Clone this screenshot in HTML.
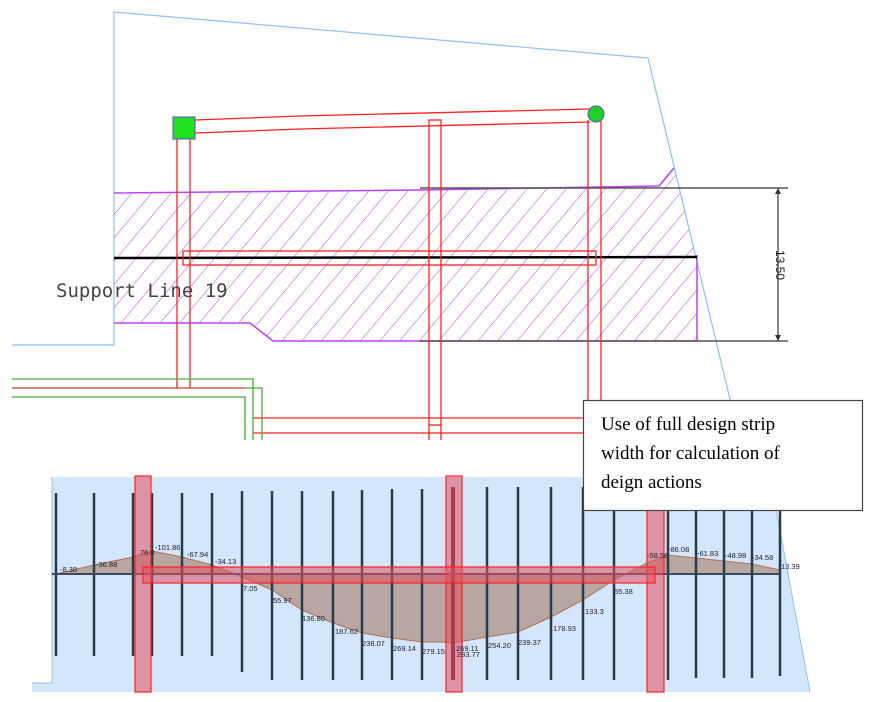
<!DOCTYPE html>
<html><head><meta charset="utf-8"><style>
html,body{margin:0;padding:0;background:#fff;width:886px;height:702px;overflow:hidden}
svg{display:block}
</style></head><body>
<svg width="886" height="702" viewBox="0 0 886 702" xmlns="http://www.w3.org/2000/svg">
<defs>
<pattern id="h" patternUnits="userSpaceOnUse" width="15" height="15" patternTransform="rotate(40)">
<line x1="0" y1="0" x2="0" y2="15" stroke="#c040f0" stroke-width="1"/>
</pattern>
</defs>
<polyline points="12,345 114,345 114,12 648,58 747,470" fill="none" stroke="#8cc0f8" stroke-width="1.2"/>
<polygon points="114,193 420,190 659,186 674,168 695,255 697,255 697,341 273,341 250,323 114,323" fill="url(#h)"/>
<polyline points="114,193 420,190 659,186 674,168" fill="none" stroke="#c040f0" stroke-width="1.5"/>
<polyline points="697,255 697,341 273,341 250,323 114,323" fill="none" stroke="#c040f0" stroke-width="1.5"/>
<line x1="420" y1="188" x2="788" y2="188" stroke="#555" stroke-width="1.5"/>
<line x1="420" y1="341" x2="788" y2="341" stroke="#555" stroke-width="1.5"/>
<line x1="778" y1="188" x2="778" y2="341" stroke="#333" stroke-width="1.2"/>
<polygon points="778,188 775,194 781,194" fill="#333"/>
<polygon points="778,341 775,335 781,335" fill="#333"/>
<text transform="translate(776,250) rotate(90)" font-family="Liberation Sans, sans-serif" font-size="12" fill="#222">13.50</text>
<line x1="114" y1="258" x2="697" y2="257" stroke="#000" stroke-width="2.5"/>
<g fill="none" stroke="#ff2020" stroke-width="1.3">
<polyline points="195,120 300,116 590,109"/>
<polyline points="195,133 300,129 590,122"/>
<rect x="183" y="251" width="413" height="14"/>
<line x1="177" y1="139" x2="177" y2="388"/>
<line x1="190" y1="139" x2="190" y2="388"/>
<rect x="429" y="120" width="12" height="305"/>
<line x1="429" y1="425" x2="429" y2="440"/>
<line x1="441" y1="425" x2="441" y2="440"/>
<line x1="588" y1="120" x2="588" y2="400"/>
<line x1="601" y1="120" x2="601" y2="400"/>
<line x1="253" y1="418" x2="583" y2="418"/>
<line x1="253" y1="433" x2="583" y2="433"/>
<line x1="12" y1="388" x2="245" y2="388" stroke="#c04020"/>
</g>
<g fill="none" stroke="#40b030" stroke-width="1.3">
<polyline points="12,379 253,379 253,440"/>
<polyline points="12,397 245,397 245,440"/>
<polyline points="245,388 262,388 262,440"/>
</g>
<rect x="173" y="117" width="22" height="22" fill="#20e020" stroke="#5050c0"/>
<circle cx="596" cy="114" r="8" fill="#20d020" stroke="#5050c0"/>
<text x="56" y="297" font-family="DejaVu Sans Mono, monospace" font-size="19" fill="#444">Support Line 19</text>

<polygon points="52,477 770,477 810,692 32,692 32,683 52,683" fill="#d4e6fb"/>
<line x1="52" y1="477" x2="52" y2="683" stroke="#8cc0f8"/>
<line x1="32" y1="683" x2="52" y2="683" stroke="#8cc0f8"/>
<line x1="770" y1="477" x2="810" y2="692" stroke="#8cc0f8"/>
<polygon points="56,574 94,565 133,557 152,551 182,557 212,565 242,577 272,590 302,610 333,623 362,633 392,638 422,642 440,642 453,643 487,637 518,632 551,617 583,600 614,580 647,563 668,555 696,558 724,561 752,564 780,570 780,574" fill="#b8a6a2"/>
<polyline points="56,574 94,565 133,557 152,551 182,557 212,565 242,577 272,590 302,610 333,623 362,633 392,638 422,642 440,642 453,643 487,637 518,632 551,617 583,600 614,580 647,563 668,555 696,558 724,561 752,564 780,570" fill="none" stroke="#b07050" stroke-width="1"/>
<g stroke="#2a3a4a" stroke-width="2.5">
<line x1="56" y1="493" x2="56" y2="656"/><line x1="94" y1="493" x2="94" y2="656"/>
<line x1="133" y1="493" x2="133" y2="656"/><line x1="152" y1="493" x2="152" y2="656"/>
<line x1="182" y1="493" x2="182" y2="656"/><line x1="212" y1="493" x2="212" y2="656"/>
<line x1="242" y1="491" x2="242" y2="672"/><line x1="272" y1="491" x2="272" y2="680"/>
<line x1="302" y1="491" x2="302" y2="680"/><line x1="333" y1="491" x2="333" y2="680"/>
<line x1="362" y1="490" x2="362" y2="680"/><line x1="392" y1="489" x2="392" y2="680"/>
<line x1="422" y1="489" x2="422" y2="680"/><line x1="453" y1="487" x2="453" y2="680" stroke="#702030" stroke-width="4"/>
<line x1="487" y1="487" x2="487" y2="680"/><line x1="518" y1="487" x2="518" y2="680"/>
<line x1="551" y1="487" x2="551" y2="680"/><line x1="583" y1="487" x2="583" y2="680"/>
<line x1="614" y1="487" x2="614" y2="680"/><line x1="668" y1="505" x2="668" y2="680"/>
<line x1="696" y1="505" x2="696" y2="678"/><line x1="724" y1="505" x2="724" y2="678"/>
<line x1="752" y1="505" x2="752" y2="678"/><line x1="780" y1="505" x2="780" y2="676"/>
</g>
<line x1="52" y1="574" x2="780" y2="574" stroke="#3a4a5a" stroke-width="2"/>
<g fill="#e05060" fill-opacity="0.55" stroke="#ff2020" stroke-width="1.2">
<rect x="135" y="476" width="16" height="216"/>
<rect x="446" y="476" width="16" height="216"/>
<rect x="647" y="478" width="17" height="214"/>
<rect x="143" y="567" width="512" height="16"/>
</g>
<g font-family="Liberation Sans, sans-serif" font-size="7.5" fill="#223">
<text x="60" y="572">-8.38</text><text x="96" y="567">-36.88</text><text x="140" y="555">76.0</text>
<text x="155" y="550">-101.86</text><text x="187" y="557">-67.94</text><text x="215" y="564">-34.13</text>
<text x="243" y="591">7.05</text><text x="273" y="603">55.97</text><text x="302" y="621">136.80</text>
<text x="335" y="634">187.62</text><text x="362" y="646">238.07</text><text x="393" y="651">269.14</text>
<text x="422" y="654">279.15</text><text x="456" y="651">269.11</text><text x="457" y="657">283.77</text>
<text x="488" y="648">254.20</text><text x="518" y="645">239.37</text><text x="553" y="631">178.93</text>
<text x="585" y="614">133.3</text><text x="614" y="594">55.38</text><text x="647" y="558">-58.56</text>
<text x="668" y="552">-86.08</text><text x="697" y="556">-61.83</text><text x="725" y="558">-48.98</text>
<text x="752" y="560">-34.58</text><text x="781" y="569">13.39</text>
</g>
<rect x="583.5" y="400.5" width="279" height="110" fill="#fff" stroke="#444" stroke-width="1.2"/>
<g font-family="Liberation Serif, serif" font-size="19" fill="#000">
<text x="601" y="430">Use of full design strip</text>
<text x="601" y="459">width for calculation of</text>
<text x="601" y="488">deign actions</text>
</g>
</svg>
</body></html>
